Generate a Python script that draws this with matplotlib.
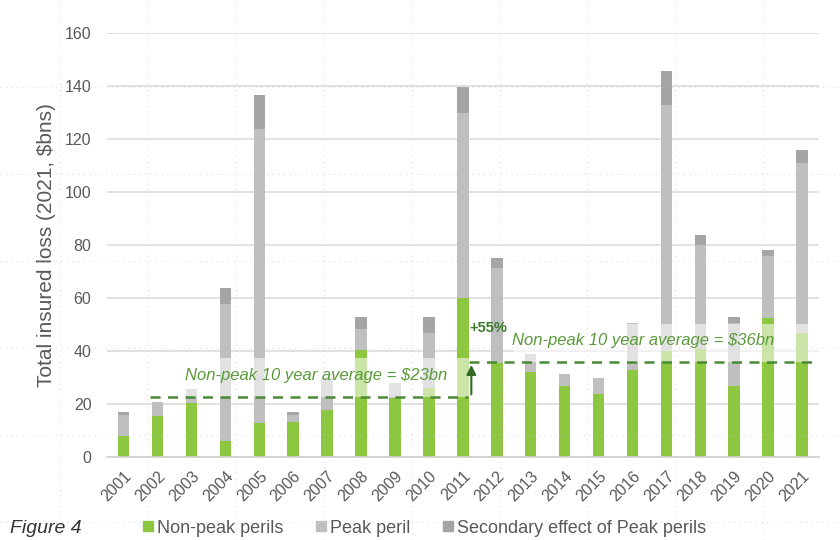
"""Figure 4: total insured loss by year, non-peak vs peak perils."""
import numpy as np
import matplotlib.pyplot as plt
from matplotlib.lines import Line2D
from matplotlib.patches import Rectangle

plt.rcParams['font.family'] = ['Liberation Sans', 'DejaVu Sans']

years = [str(y) for y in range(2001, 2022)]
non_peak = [8, 15.5, 20.5, 6, 13, 13.5, 18, 40.5, 22.5, 26, 60,
            35.5, 32, 27, 24, 33, 40, 41, 27, 52.5, 47]
peak = [8, 5.5, 5.3, 52, 110.7, 2.5, 12, 8, 5.5, 21, 70,
        36, 7, 4.5, 6, 17.5, 93, 39, 23.5, 23.5, 64]
secondary = [1, 0, 0, 6, 13, 1, 0, 4.5, 0, 6, 9.5,
             3.5, 0, 0, 0, 0, 12.5, 4, 2.5, 2.3, 5]

avg_first = 22.7    # 2002-2011 non-peak average
avg_second = 35.9   # 2012-2021 non-peak average
band_first = (22.7, 37.5)
band_second = (35.9, 50.4)

GREEN = '#8dc63f'
PEAK = '#bfbfbf'
SEC = '#a5a5a5'
DKGREEN = '#4a8a34'
TXT = '#595959'

fig = plt.figure(figsize=(8.4, 5.4), dpi=100)
fig.patch.set_facecolor('white')
ax = fig.add_axes([0.127, 0.153, 0.848, 0.786])

x = np.arange(len(years))
w = 0.34
np_arr = np.array(non_peak)
pk_arr = np.array(peak)
sc_arr = np.array(secondary)
ax.bar(x, np_arr, w, color=GREEN, zorder=2)
ax.bar(x, pk_arr, w, bottom=np_arr, color=PEAK, zorder=2)
ax.bar(x, sc_arr, w, bottom=np_arr + pk_arr, color=SEC, zorder=2)

# translucent highlight bands around the averages
ax.add_patch(Rectangle((0.5, band_first[0]), 10.0, band_first[1] - band_first[0],
                       facecolor='white', alpha=0.55, lw=0, zorder=3))
ax.add_patch(Rectangle((11.5, band_second[0]), 9.0, band_second[1] - band_second[0],
                       facecolor='white', alpha=0.55, lw=0, zorder=3))

# average lines
ax.plot([0.77, 10.16], [avg_first, avg_first], ls=(0, (4, 3)), color=DKGREEN,
        lw=1.8, zorder=4)
ax.plot([10.19, 20.5], [avg_second, avg_second], ls=(0, (4, 3)), color=DKGREEN,
        lw=1.8, zorder=4)
ax.annotate('', xy=(10.25, avg_second), xytext=(10.25, avg_first),
            arrowprops=dict(arrowstyle='-|>', color='#2e6b22', lw=1.5,
                            mutation_scale=14), zorder=5)
ax.text(10.19, 48.7, '+55%', color='#3d7a2c', fontsize=10.5, fontweight='bold',
        va='center', ha='left', zorder=5)
ax.text(1.8, 31.0, 'Non-peak 10 year average = $23bn', color='#5a9a3a',
        fontsize=12, style='italic', va='center', ha='left', zorder=5)
ax.text(11.46, 44.2, 'Non-peak 10 year average = $36bn', color='#5a9a3a',
        fontsize=12, style='italic', va='center', ha='left', zorder=5)

ax.set_xlim(-0.5, 20.5)
ax.set_ylim(0, 160)
ax.set_yticks(np.arange(0, 161, 20))
ax.set_xticks(x)
ax.set_xticklabels(years, rotation=45, ha='right', rotation_mode='anchor')
ax.tick_params(axis='both', length=0, colors=TXT, labelsize=11.5)
ax.tick_params(axis='x', pad=8)
ax.tick_params(axis='y', pad=11)
ax.yaxis.grid(True, color='#dcdcdc', lw=1.2, zorder=0)
ax.set_axisbelow(True)
for s in ['top', 'right', 'left']:
    ax.spines[s].set_visible(False)
ax.spines['bottom'].set_color('#d0d0d0')
ax.spines['bottom'].set_linewidth(1.2)
ax.set_ylabel('Total insured loss (2021, $bns)', fontsize=15, color=TXT, labelpad=6)

# legend and caption
handles = [Line2D([], [], marker='s', ls='', color=c, markersize=7)
           for c in (GREEN, PEAK, SEC)]
fig.legend(handles, ['Non-peak perils', 'Peak peril', 'Secondary effect of Peak perils'],
           loc='center left', bbox_to_anchor=(0.166, 0.022), ncol=3, frameon=False,
           fontsize=13, handletextpad=0.05, columnspacing=1.65, labelcolor=TXT,
           handlelength=0.9, borderpad=0, borderaxespad=0)
fig.text(0.012, 0.022, 'Figure 4', fontsize=14, style='italic', color='#333333',
         va='center', ha='left')

# faint dotted scan-grid overlay
ov = fig.add_axes([0, 0, 1, 1], facecolor='none')
ov.set_xlim(0, 840)
ov.set_ylim(540, 0)
ov.axis('off')
for gx in np.arange(60, 840, 87.9):
    ov.axvline(gx, color='#c8c8c8', lw=0.8, ls=(0, (1, 4)), alpha=0.6)
for gy in np.arange(87, 540, 87):
    ov.axhline(gy, color='#c8c8c8', lw=0.8, ls=(0, (1, 4)), alpha=0.6)

plt.savefig('out.png', dpi=100, facecolor='white')
